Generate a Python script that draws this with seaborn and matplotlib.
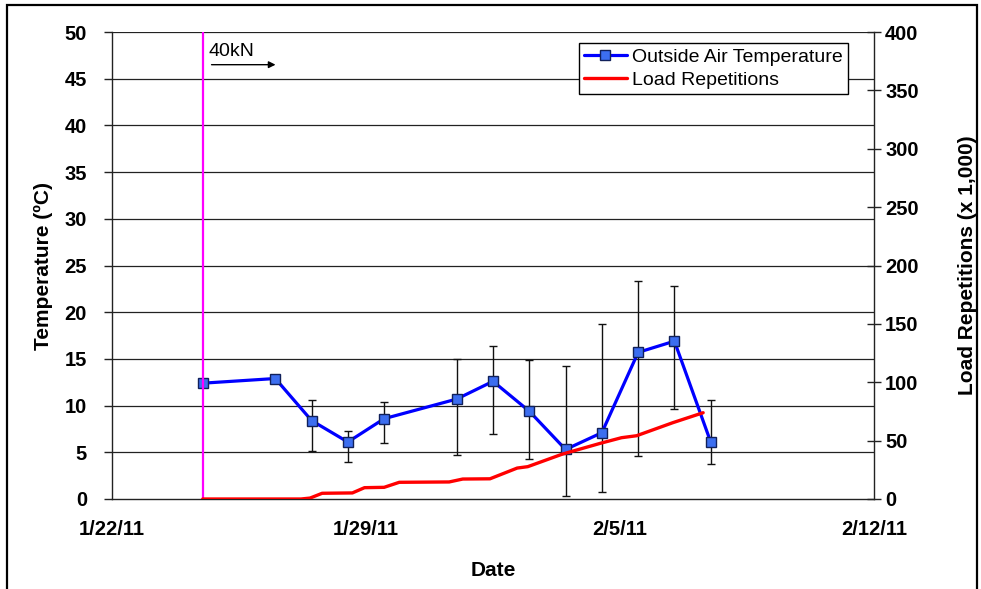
import matplotlib
matplotlib.use("Agg")
import matplotlib.pyplot as plt
from matplotlib.patches import Rectangle
import seaborn as sns
import pandas as pd

# Outside air temperature (daily mean with min/max range)
temp_dates = ["2011-01-24 12:00", "2011-01-26 12:00", "2011-01-27 12:00", "2011-01-28 12:00",
              "2011-01-29 12:00", "2011-01-31 12:00", "2011-02-01 12:00", "2011-02-02 12:00",
              "2011-02-03 12:00", "2011-02-04 12:00", "2011-02-05 12:00", "2011-02-06 12:00",
              "2011-02-07 12:00"]
temp_mean = [12.4, 12.9, 8.4, 6.1, 8.6, 10.7, 12.6, 9.4, 5.3, 7.1, 15.7, 16.9, 6.1]
temp_max = [12.4, 12.9, 10.6, 7.3, 10.4, 15.0, 16.4, 14.9, 14.2, 18.7, 23.3, 22.8, 10.6]
temp_min = [12.4, 12.9, 5.1, 4.0, 6.0, 4.7, 7.0, 4.3, 0.3, 0.8, 4.6, 9.6, 3.7]

# Cumulative load repetitions (thousands)
rep_dates = ["2011-01-24 12:00", "2011-01-27 05:00", "2011-01-27 11:00", "2011-01-27 19:00",
             "2011-01-28 15:00", "2011-01-28 23:00", "2011-01-29 12:00", "2011-01-29 22:00",
             "2011-01-31 07:00", "2011-01-31 16:00", "2011-02-01 10:00", "2011-02-02 04:00",
             "2011-02-02 11:00", "2011-02-03 10:00", "2011-02-04 11:00", "2011-02-05 01:00",
             "2011-02-05 11:00", "2011-02-06 11:00", "2011-02-07 07:00"]
rep_thousands = [0, 0, 0.8, 4.9, 5.2, 9.7, 10.0, 14.3, 14.6, 17.1, 17.3, 26.5, 27.7,
                 38.5, 47.7, 52.5, 54.2, 65.4, 73.9]

load_change_date = "2011-01-24 12:00"
load_label = "40kN"

x_ticks = ["2011-01-22", "2011-01-29", "2011-02-05", "2011-02-12"]
x_tick_labels = ["1/22/11", "1/29/11", "2/5/11", "2/12/11"]
temp_ticks = [0, 5, 10, 15, 20, 25, 30, 35, 40, 45, 50]
rep_ticks = [0, 50, 100, 150, 200, 250, 300, 350, 400]

temp_df = pd.DataFrame({"date": pd.to_datetime(temp_dates), "temp": temp_mean,
                        "tmax": temp_max, "tmin": temp_min})
rep_df = pd.DataFrame({"date": pd.to_datetime(rep_dates), "reps": rep_thousands})

sns.set_style("white")
plt.rcParams["font.family"] = ["Liberation Sans", "DejaVu Sans"]
plt.rcParams.update({"text.color": "black", "axes.labelcolor": "black",
                     "xtick.color": "black", "ytick.color": "black"})

fig = plt.figure(figsize=(9.81, 5.89), dpi=100)
ax = fig.add_axes([112 / 981, 1 - 499 / 589, (874 - 112) / 981, (499 - 32) / 589])
ax2 = ax.twinx()

# horizontal gridlines
for t in temp_ticks[1:]:
    ax.axhline(t, color="#222222", lw=0.9, zorder=0)

# error bars for days with a recorded range
err = temp_df[temp_df["tmax"] > temp_df["tmin"]]
ax.errorbar(err["date"], err["temp"],
            yerr=[err["temp"] - err["tmin"], err["tmax"] - err["temp"]],
            fmt="none", ecolor="#111111", elinewidth=1.0, capsize=3.2, capthick=1.0, zorder=2)

sns.lineplot(data=temp_df, x="date", y="temp", ax=ax, color="#0000FF", lw=2.3,
             marker="s", markersize=6.5, markerfacecolor="#3C6EF0",
             markeredgecolor="#10205A", markeredgewidth=1.0, zorder=4,
             label="Outside Air Temperature", legend=False)

sns.lineplot(data=rep_df, x="date", y="reps", ax=ax2, color="#FF0000", lw=2.4,
             label="Load Repetitions", legend=False, zorder=3)

# start of the 40kN loading
lc = pd.Timestamp(load_change_date)
ax.axvline(lc, color="#FF00FF", lw=1.6, zorder=5)
ax.text(lc + pd.Timedelta(hours=4), 47.0, load_label, fontsize=14, ha="left", va="bottom")
ax.annotate("", xy=(lc + pd.Timedelta(hours=50), 46.5), xytext=(lc + pd.Timedelta(hours=4), 46.5),
            arrowprops=dict(arrowstyle="-|>", color="black", lw=1.0, mutation_scale=10))

xt = pd.to_datetime(x_ticks)
ax.set_xlim(xt[0], xt[-1])
ax.set_xticks(xt)
ax.set_xticklabels(x_tick_labels)
ax.set_ylim(0, 50)
ax.set_yticks(temp_ticks)
ax2.set_ylim(0, 400)
ax2.set_yticks(rep_ticks)

for a in (ax, ax2):
    for s in a.spines.values():
        s.set_visible(False)
ax.spines["left"].set_visible(True)
ax.spines["bottom"].set_visible(True)
ax2.spines["right"].set_visible(True)
for name in ("left", "bottom"):
    ax.spines[name].set_color("#222222")
    ax.spines[name].set_linewidth(1.0)
ax2.spines["right"].set_color("#222222")
ax2.spines["right"].set_linewidth(1.0)

ax.tick_params(axis="y", direction="out", length=6, width=1, color="#222222",
               labelcolor="black", labelsize=14.5, pad=12)
ax.tick_params(axis="x", direction="inout", length=10, width=1, color="#222222",
               labelcolor="black", labelsize=14.5, pad=10)
ax2.tick_params(axis="y", direction="inout", length=10, width=1, color="#222222",
                labelcolor="black", labelsize=14.5, pad=3)
for lab in ax.get_xticklabels() + ax.get_yticklabels() + ax2.get_yticklabels():
    lab.set_fontweight("bold")

ax.set_xlabel("Date", fontsize=15, fontweight="bold", labelpad=16)
ax.set_ylabel("Temperature (ºC)", fontsize=15, fontweight="bold", labelpad=8)
ax2.set_ylabel("Load Repetitions (x 1,000)", fontsize=15, fontweight="bold", labelpad=28)

h1, l1 = ax.get_legend_handles_labels()
h2, l2 = ax2.get_legend_handles_labels()
leg = ax2.legend(h1 + h2, l1 + l2, loc="upper right", bbox_to_anchor=(0.966, 0.976),
                 fontsize=14, frameon=True, fancybox=False, framealpha=1,
                 edgecolor="black", handlelength=2.2, handletextpad=0.3,
                 borderpad=0.25, labelspacing=0.3, borderaxespad=0)
leg.get_frame().set_linewidth(1.0)

fig.patches.append(Rectangle((7 / 981, -0.02), (977 - 7) / 981, 1 - 5 / 589 + 0.02,
                             transform=fig.transFigure, fill=False, edgecolor="black",
                             lw=1.6, zorder=10))

fig.savefig("out.png", dpi=100)
